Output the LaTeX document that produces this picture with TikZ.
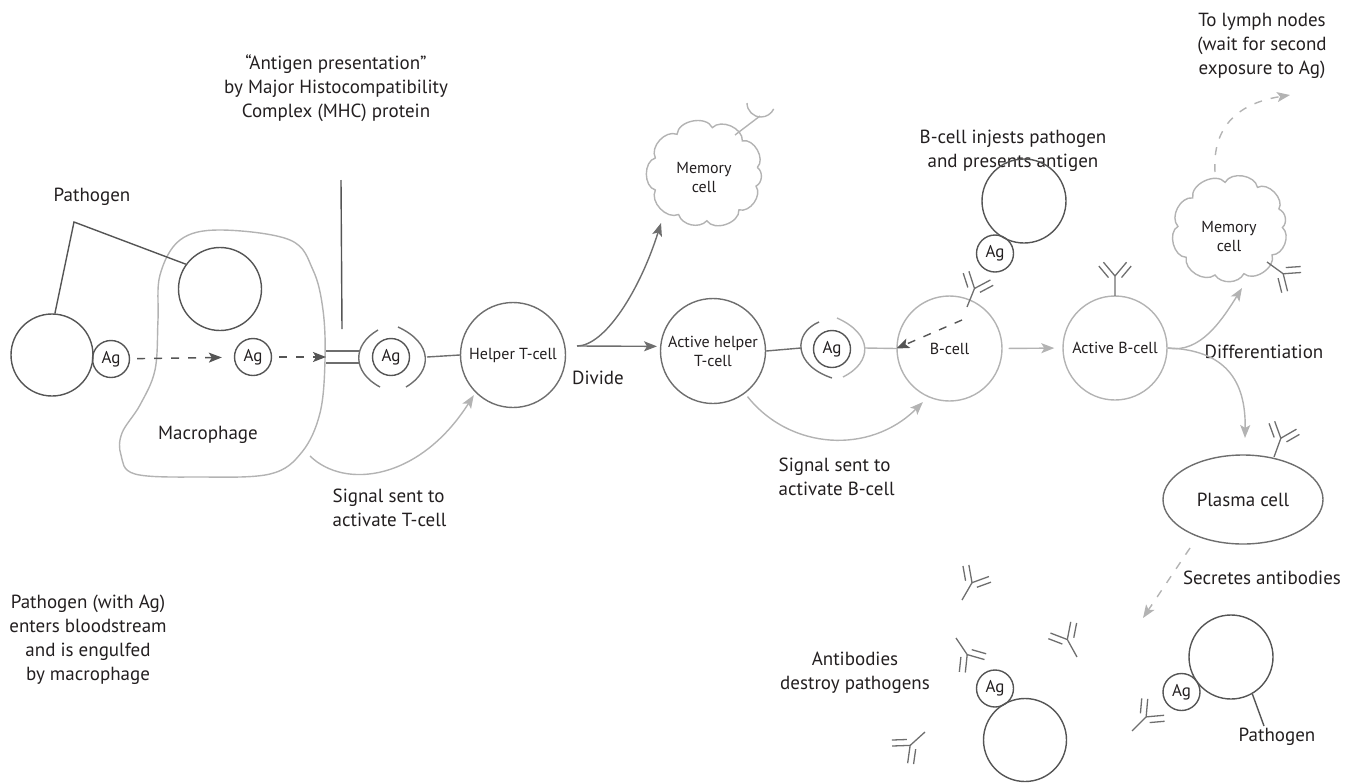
\documentclass[tikz,border=0pt]{standalone}
\usepackage{fontspec}
\setmainfont{PT Sans}
\usetikzlibrary{shapes.geometric,arrows.meta,calc}
\definecolor{ink}{HTML}{231F20}
\definecolor{dark}{HTML}{555555}
\definecolor{mid}{HTML}{6E6E6E}
\definecolor{light}{HTML}{B3B3B3}
\newcommand\fsbig{\fontsize{19}{24}\selectfont}
\newcommand\fscell{\fontsize{16}{19}\selectfont}
\newcommand\fsag{\fontsize{17}{20}\selectfont}

\tikzset{
  cell/.style={circle, draw, minimum size=#1, inner sep=0pt, align=center,
    text=ink, font=\fscell},
  ag/.style={circle, draw=dark, minimum size=37, inner sep=0pt, text=ink, font=\fsag},
  lbl/.style={align=center, text=ink, font=\fsbig, inner sep=0pt},
  lblL/.style={align=left, text=ink, font=\fsbig, inner sep=0pt},
  celltext/.style={align=center, text=ink, font=\fscell, inner sep=0pt},
  tip/.style={-{Stealth[length=13pt,width=10pt,inset=3pt]}},
  dashdark/.style={draw=dark, dash pattern=on 8pt off 9pt, tip},
  dashlight/.style={draw=light, dash pattern=on 8pt off 9pt, tip},
  % puffy outline of a memory cell
  puffcloud/.pic={
    \draw (8:44 and 39) to[bend right=75] (45:44 and 39)
      to[bend right=70] (82:44 and 39) to[bend right=75] (122:44 and 39)
      to[bend right=70] (160:44 and 39) to[bend right=75] (200:44 and 39)
      to[bend right=70] (240:44 and 39) to[bend right=60] (272:44 and 39)
      to[bend right=75] (310:44 and 39) to[bend right=70] (345:44 and 39)
      to[bend right=60] (8:44 and 39);
  },
  antibody/.pic={
    \draw (0,0) -- (0,20) -- ++(130:18);
    \draw (0,20) -- ++(50:18);
    \draw (0,20) ++(130:3) ++(220:6) -- ++(130:15);
    \draw (0,20) ++(50:3) ++(-40:6) -- ++(50:15);
  },
}

\begin{document}
\begin{tikzpicture}[x=1pt, y=1pt, line width=1.4pt]
\useasboundingbox (0,0) rectangle (1352,-782);

% ---------- pathogen entering and macrophage ----------
\draw[light] plot[smooth cycle, tension=0.6] coordinates {
  (220,-230) (290,-240) (313,-270) (323,-310) (325,-360) (320,-413)
  (302,-452) (270,-474) (200,-477) (135,-474) (121,-455) (122,-433)
  (140,-405) (155,-370) (158,-320) (160,-275) (180,-240)};
\node[lbl] (mlab) at (208,-435) {Macrophage};

\node[cell=82, draw=dark] (p1) at (52,-355) {};
\node[ag] (ag1) at (111,-359) {Ag};
\node[cell=83, draw=dark] (p2) at (220,-289) {};
\node[ag] (ag2) at (253,-357) {Ag};

\node[lbl] (plab) at (92,-197) {Pathogen};
\coordinate (pk) at (74,-222);
\draw[dark] (p1.86) -- (pk) -- (p2.144);

\draw[dashdark, shorten <=7pt, shorten >=12pt] (ag1) -- (ag2);

% MHC protein holding the antigen
\coordinate (mhc) at (326,-357);
\draw[dashdark, shorten <=7pt] (ag2) -- (mhc);
\draw[mid] (326,-351) -- (360,-351);
\draw[mid] (326,-363) -- (360,-363);
\node[ag] (ag3) at (391,-357) {Ag};
\draw[mid] (378,-330) .. controls (352,-345) and (352,-372) .. (380,-387);
\draw[mid] (398,-327) .. controls (433,-343) and (433,-371) .. (406,-387);
\coordinate (mhcR) at (427,-357);

\node[lbl] (mhclab) at (336,-88)
  {“Antigen presentation”\\by Major Histocompatibility\\Complex (MHC) protein};
\coordinate (mtop) at (341,-180);
\draw[dark] (mtop) -- (342,-329);

\node[lbl] (enter) at (88,-640)
  {Pathogen (with Ag)\\enters bloodstream\\and is engulfed\\by macrophage};

% ---------- helper T-cell ----------
\node[cell=105, draw=mid] (ht) at (513,-355) {Helper T-cell};
\draw[mid] (mhcR) -- (ht.west);

\coordinate (sigT) at (310,-456);
\draw[light, tip, shorten >=3pt] (sigT) .. controls (345,-490) and (420,-480) .. (ht.225);
\node[lblL, anchor=west] (stlab) at (332,-508) {Signal sent to\\activate T-cell};

\node[cell=105, draw=mid] (aht) at (713,-351) {Active helper\\T-cell};
\coordinate (dv) at (577,-346);
\draw[mid, tip, shorten >=3pt] (dv) -- (aht.175);
\node[lbl] (divlab) at (598,-378) {Divide};

\node[celltext] (mc1) at (704,-177) {Memory\\cell};
\pic[draw=light, scale=1.2] at (705,-174) {puffcloud};
\coordinate (mc1end) at (661,-223);
\draw[mid, tip] (dv) .. controls (605,-346) and (640,-290) .. (mc1end);
\draw[light] (735,-135) -- (760,-116);
\draw[light] (747,-103) arc[start angle=180, end angle=335, radius=14];

% ---------- antigen handed to the B-cell ----------
\node[ag] (ag4) at (832,-349) {Ag};
\draw[mid] (aht.east) -- (801,-348);
\draw[mid] (819,-322) .. controls (793,-333) and (793,-365) .. (832,-378);
\draw[light] (837,-318) .. controls (873,-334) and (873,-362) .. (843,-377);

\node[cell=105, draw=light] (bc) at (949.5,-348.5) {B-cell};
\draw[light] (865,-348) -- (bc.west);

\draw[light, tip, shorten <=4pt, shorten >=7pt] (aht.-53) .. controls (790,-450) and (870,-455) .. (bc.246);
\node[lblL, anchor=west] (sblab) at (778,-477) {Signal sent to\\activate B-cell};

\node[lbl] (btxt) at (1013,-151) {B-cell injests pathogen\\and presents antigen};
\node[cell=84, draw=dark] (p3) at (1024,-201) {};
\node[ag] (ag5) at (995,-253.5) {Ag};
\pic[color=mid, line width=1.3pt, rotate=-22] at (967,-307) {antibody};
\coordinate (bd) at (962,-320);
\draw[dashdark] (bd) -- (bc.west);

% ---------- active B-cell and its offspring ----------
\node[cell=104, draw=light] (abc) at (1115,-348) {Active B-cell};
\draw[light, tip, shorten <=6pt, shorten >=8pt] (bc.east) -- (abc.west);
\pic[color=mid, line width=1.3pt] at (1115,-296) {antibody};

\node[celltext] (mc2) at (1229,-236) {Memory\\cell};
\pic[draw=light, rotate=15, scale=1.2] at (1230,-229) {puffcloud};
\pic[color=mid, line width=1.3pt, rotate=-126] at (1267,-262) {antibody};
\coordinate (mc2end) at (1242,-288);
\draw[light, tip] (abc.east) .. controls (1200,-354) and (1222,-320) .. (mc2end);

\node[lbl] (dlab) at (1264,-352) {Differentiation};

\coordinate (lstart) at (1215,-172);
\coordinate (lend) at (1290,-95);
\draw[dashlight] (lstart) .. controls (1212,-125) and (1240,-103) .. (lend);
\node[lbl] (llab) at (1262,-46) {To lymph nodes\\(wait for second\\exposure to Ag)};

\node[ellipse, draw=mid, minimum width=160, minimum height=89, inner sep=0pt,
  text=ink, font=\fsbig] (pc) at (1243,-499.5) {Plasma cell};
\coordinate (pcend) at (1245,-438);
\draw[light, tip] (abc.east) .. controls (1225,-350) and (1246,-380) .. (pcend);
\pic[color=mid, line width=1.3pt, rotate=-20] at (1274,-457) {antibody};

\coordinate (sstart) at (1190,-548);
\coordinate (send) at (1143,-618);
\draw[dashlight] (sstart) -- (send);
\node[lbl] (slab) at (1262,-578) {Secretes antibodies};

% ---------- antibodies at work ----------
\node[lbl] (alab) at (855,-673) {Antibodies\\destroy pathogens};
\node[cell=83, draw=dark] (p4) at (1025,-740) {};
\node[ag] (ag6) at (995,-688.5) {Ag};
\pic[color=mid, line width=1.3pt, rotate=-146] at (956,-638) {antibody};
\pic[color=mid, line width=1.3pt, rotate=29] at (1077,-657) {antibody};
\pic[color=mid, line width=1.3pt, rotate=132] at (925,-732) {antibody};
\pic[color=mid, line width=1.3pt, rotate=-30] at (962,-600) {antibody};
\pic[color=mid, line width=1.3pt, rotate=-45] at (1132,-731) {antibody};

\node[cell=84, draw=dark] (p5) at (1231,-657) {};
\node[ag] (ag7) at (1181.5,-692) {Ag};
\node[lbl] (plab2) at (1277,-737) {Pathogen};
\coordinate (pk2) at (1264,-726);
\draw[dark] (p5.-60) -- (pk2);

\end{tikzpicture}
\end{document}
